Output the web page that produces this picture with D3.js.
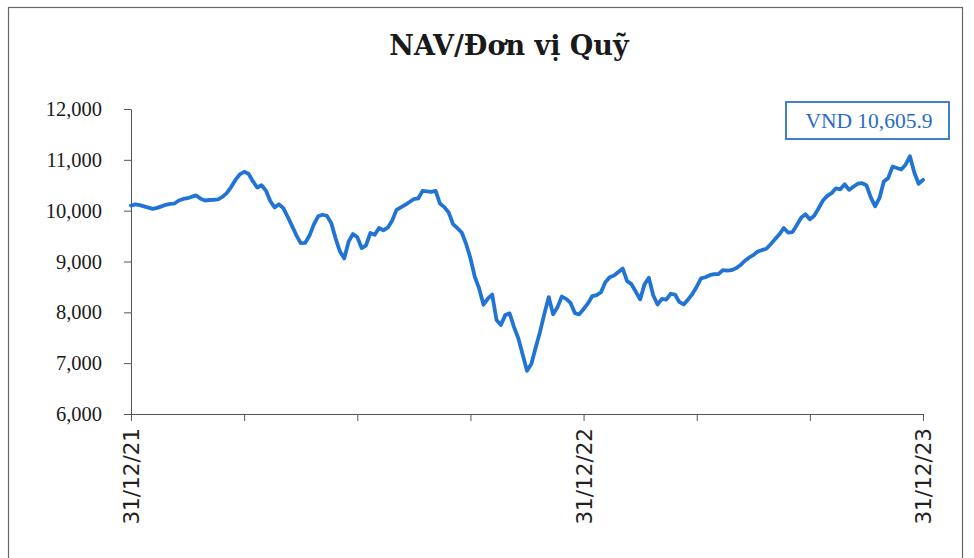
<!DOCTYPE html>
<html>
<head>
<meta charset="utf-8">
<script src="https://cdn.jsdelivr.net/npm/d3@7/dist/d3.min.js"></script>
<style>
  body { margin: 0; background: #ffffff; }
  svg { display: block; }
</style>
</head>
<body>
<svg id="chart" width="974" height="558"></svg>
<script>
// NAV per fund unit, evenly spaced observations from 31/12/21 to 31/12/23
const navValues = [
  10100, 10125, 10110, 10085, 10060, 10035, 10055, 10085, 10115, 10135,
  10140, 10200, 10230, 10245, 10275, 10300, 10235, 10200, 10210, 10215,
  10222, 10270, 10345, 10465, 10605, 10715, 10765, 10725, 10580, 10455,
  10500, 10395, 10190, 10065, 10125, 10050, 9880, 9700, 9515, 9360,
  9365, 9505, 9725, 9890, 9920, 9900, 9760, 9460, 9200, 9060,
  9390, 9540, 9480, 9265, 9315, 9560, 9525, 9660, 9615, 9665,
  9800, 10015, 10065, 10115, 10170, 10228, 10240, 10390, 10380, 10370,
  10390, 10140, 10070, 9965, 9735, 9655, 9570, 9350, 9065, 8700,
  8470, 8150, 8270, 8350, 7850, 7750, 7945, 7980, 7715, 7490,
  7170, 6850, 6985, 7310, 7620, 7975, 8300, 7960, 8100, 8310,
  8265, 8185, 7985, 7960, 8065, 8175, 8320, 8340, 8395, 8590,
  8690, 8725, 8795, 8860, 8615, 8555, 8405, 8255, 8550, 8680,
  8335, 8155, 8265, 8250, 8365, 8350, 8205, 8155, 8250, 8360,
  8505, 8670, 8690, 8730, 8750, 8750, 8830, 8820, 8830, 8865,
  8925, 9010, 9075, 9125, 9195, 9225, 9250, 9340, 9440, 9535,
  9660, 9570, 9580, 9715, 9860, 9930, 9830, 9900, 10045, 10200,
  10290, 10345, 10440, 10420, 10520, 10410, 10470, 10530, 10540, 10500,
  10260, 10085, 10250, 10575, 10640, 10865, 10840, 10810, 10905, 11070,
  10750, 10530, 10605.9
];

// Category axis: a tick every 26 observations, dates shown at year ends
const xTickStep = 26;
const xLabelIndex = [0, 104, 182];
const xLabelText = ["31/12/21", "31/12/22", "31/12/23"];

const yTicks = [6000, 7000, 8000, 9000, 10000, 11000, 12000];
const chartTitle = "NAV/Đơn vị Quỹ";
const latestPrefix = "VND ";

const svg = d3.select("#chart");
const lineColor = "#2174d4";
const axisColor = "#555555";

// Outer chart frame
svg.append("rect")
  .attr("x", 8.5).attr("y", 7.5)
  .attr("width", 954).attr("height", 560)
  .attr("fill", "none")
  .attr("stroke", "#666")
  .attr("stroke-width", 1.2);

// Title
svg.append("text")
  .attr("x", 509).attr("y", 55)
  .attr("text-anchor", "middle")
  .style("font-family", "'DejaVu Serif', serif")
  .style("font-weight", "bold")
  .style("font-size", "27px")
  .style("fill", "#1a1a1a")
  .text(chartTitle);

const x = d3.scaleLinear().domain([0, navValues.length - 1]).range([131, 923]);
const y = d3.scaleLinear().domain([6000, 12000]).range([414, 109]);

// Y axis
const yAxis = svg.append("g")
  .attr("transform", `translate(${x.range()[0]},0)`)
  .call(d3.axisLeft(y)
    .tickValues(yTicks)
    .tickFormat(d3.format(","))
    .tickSize(7)
    .tickSizeOuter(0)
    .tickPadding(22));
yAxis.select(".domain").attr("stroke", axisColor);
yAxis.selectAll(".tick line").attr("stroke", axisColor);
yAxis.selectAll(".tick text")
  .style("font-family", "'Liberation Serif', serif")
  .style("font-size", "20.5px")
  .style("fill", "#1a1a1a");

// X axis
const xTicks = d3.range(0, navValues.length, xTickStep);
const xAxis = svg.append("g")
  .attr("transform", `translate(0,${y.range()[0]})`)
  .call(d3.axisBottom(x)
    .tickValues(xTicks)
    .tickSize(7)
    .tickSizeOuter(0)
    .tickFormat(i => {
      const k = xLabelIndex.indexOf(i);
      return k >= 0 ? xLabelText[k] : "";
    }));
xAxis.select(".domain").attr("stroke", axisColor);
xAxis.selectAll(".tick line").attr("stroke", axisColor);
xAxis.selectAll(".tick text")
  .attr("transform", "rotate(-90)")
  .attr("x", -14)
  .attr("y", 0)
  .attr("dy", "0.36em")
  .attr("text-anchor", "end")
  .style("font-family", "'DejaVu Sans', sans-serif")
  .style("font-size", "21.5px")
  .style("fill", "#222");

// NAV line
const line = d3.line()
  .x((d, i) => x(i))
  .y(d => y(d));

svg.append("path")
  .datum(navValues)
  .attr("fill", "none")
  .attr("stroke", lineColor)
  .attr("stroke-width", 3.8)
  .attr("stroke-linejoin", "round")
  .attr("stroke-linecap", "round")
  .attr("d", line);

// Latest value callout
const latest = navValues[navValues.length - 1];
const box = svg.append("g");
box.append("rect")
  .attr("x", 786).attr("y", 102)
  .attr("width", 163).attr("height", 37)
  .attr("fill", "#ffffff")
  .attr("stroke", "#2f72c8")
  .attr("stroke-width", 1.8);
box.append("text")
  .attr("x", 869).attr("y", 128)
  .attr("text-anchor", "middle")
  .style("font-family", "'Liberation Serif', serif")
  .style("font-size", "21.5px")
  .style("fill", "#2a6cc4")
  .text(latestPrefix + d3.format(",.1f")(latest));
</script>
</body>
</html>
